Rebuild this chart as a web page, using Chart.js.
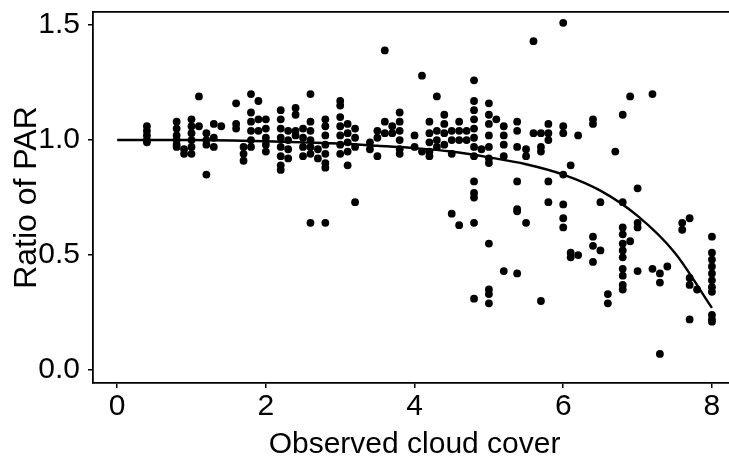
<!DOCTYPE html>
<html>
<head>
<meta charset="utf-8">
<script src="https://cdn.jsdelivr.net/npm/chart.js@4.4.1/dist/chart.umd.min.js"></script>
<style>
  html, body { margin: 0; padding: 0; background: #fff; overflow: hidden; width: 729px; height: 460px; }
  #c { display: block; }
</style>
</head>
<body>
<canvas id="c" width="740" height="460"></canvas>
<script>
// Observed cloud cover levels (x) and PAR ratio observations at each level (y)
const cloudCoverLevels = [0.4, 0.8, 0.9, 1.0, 1.1, 1.2, 1.3, 1.4, 1.6, 1.7, 1.8, 1.9, 2.0, 2.2, 2.3, 2.4, 2.5, 2.6, 2.7, 2.8,
  3.0, 3.1, 3.2, 3.4, 3.5, 3.6, 3.7, 3.8, 4.0, 4.1, 4.2, 4.3, 4.4, 4.5, 4.6, 4.7, 4.8, 4.9, 5.0, 5.1,
  5.2, 5.38, 5.5, 5.6, 5.7, 5.8, 6.0, 6.1, 6.2, 6.4, 6.5, 6.6, 6.7, 6.8, 6.9, 7.0, 7.2, 7.3, 7.4, 7.6,
  7.7, 7.8, 8.0];
const parRatioByLevel = [
  [1.06, 1.04, 1.02, 1.00, 0.99],
  [1.08, 1.05, 1.02, 1.00, 0.98, 0.97],
  [0.96, 0.94],
  [1.09, 1.06, 1.03, 1.00, 0.97, 0.94],
  [1.19, 1.06],
  [1.03, 1.00, 0.98, 0.85],
  [1.07, 1.01, 0.97],
  [1.06],
  [1.16, 1.07, 1.05],
  [0.97, 0.94, 0.91],
  [1.20, 1.12, 1.08, 1.04, 1.00, 0.97],
  [1.17, 1.09, 1.04],
  [1.09, 1.05, 1.01, 0.98, 0.95],
  [1.13, 1.09, 1.05, 1.01, 0.97, 0.93, 0.89, 0.87],
  [1.04, 1.00, 0.96, 0.92],
  [1.14, 1.11, 1.04, 1.02],
  [1.05, 1.01, 0.97, 0.93],
  [1.20, 1.08, 1.04, 1.00, 0.97, 0.94, 0.64],
  [0.96, 0.92],
  [1.09, 1.06, 1.02, 0.98, 0.94, 0.90, 0.88, 0.64],
  [1.17, 1.15, 1.10, 1.06, 1.02, 0.98, 0.94],
  [1.07, 1.03, 0.99, 0.95, 0.89],
  [1.05, 1.01, 0.97, 0.73],
  [0.99, 0.96],
  [1.04, 1.01, 0.93],
  [1.39, 1.08, 1.03],
  [1.06, 1.03],
  [1.12, 1.08, 1.04, 1.00, 0.96, 0.94],
  [1.02, 0.97],
  [1.28, 0.95],
  [1.08, 1.03, 0.99, 0.95, 0.93],
  [1.19, 1.04, 1.00, 0.97],
  [1.11, 1.07, 1.03, 0.98],
  [1.04, 1.00, 0.94, 0.68],
  [1.08, 1.04, 1.00, 0.63],
  [1.04, 1.00],
  [1.26, 1.17, 1.13, 1.09, 1.05, 1.01, 0.97, 0.93, 0.82, 0.77, 0.75, 0.64, 0.31],
  [0.96],
  [1.16, 1.11, 1.07, 1.02, 0.97, 0.92, 0.90, 0.55, 0.35, 0.33, 0.29],
  [1.09],
  [1.06, 1.02, 0.98, 0.93, 0.43],
  [1.08, 1.04, 0.97, 0.82, 0.70, 0.69, 0.42],
  [0.96, 0.93, 0.64],
  [1.43, 1.03],
  [1.03, 0.97, 0.95, 0.30],
  [1.07, 1.03, 1.00, 0.82, 0.73],
  [1.51, 1.06, 1.03, 0.85, 0.72, 0.66, 0.62],
  [0.89, 0.51, 0.49],
  [1.02, 0.50],
  [1.09, 1.07, 0.58, 0.54, 0.47],
  [0.73, 0.52],
  [0.33, 0.29],
  [0.95],
  [1.11, 0.73, 0.62, 0.59, 0.55, 0.52, 0.49, 0.44, 0.41, 0.37, 0.35],
  [1.19, 0.56],
  [0.79, 0.64, 0.62, 0.43],
  [1.20, 0.44],
  [0.42, 0.38, 0.07],
  [0.45],
  [0.64, 0.61],
  [0.66, 0.40, 0.37, 0.22],
  [0.35],
  [0.58, 0.51, 0.48, 0.45, 0.42, 0.39, 0.36, 0.34, 0.24, 0.22, 0.21]
];
// Fitted curve
const fitCloudCover = [0, 1, 2, 2.5, 3, 3.5, 4, 4.5, 5, 5.5, 6, 6.5, 7, 7.5, 8];
const fitParRatio   = [1.0, 1.0, 0.995, 0.99, 0.985, 0.975, 0.965, 0.95, 0.925, 0.895, 0.85, 0.78, 0.67, 0.51, 0.27];
// Axis ticks and titles
const xTickValues = [0, 2, 4, 6, 8];
const yTickValues = [0.0, 0.5, 1.0, 1.5];
const xTitle = 'Observed cloud cover';
const yTitle = 'Ratio of PAR';

const scatterData = [];
cloudCoverLevels.forEach((x, i) => parRatioByLevel[i].forEach(y => scatterData.push({x, y})));
const fitData = fitCloudCover.map((x, i) => ({x, y: fitParRatio[i]}));

const FONT = "'Liberation Sans', Arial, sans-serif";
const X_MIN = -0.325, X_MAX = 8.325, Y_MIN = -0.0566, Y_MAX = 1.557;

function noPad(s) { s.paddingTop = 0; s.paddingBottom = 0; s.paddingLeft = 0; s.paddingRight = 0; }

new Chart(document.getElementById('c'), {
  type: 'scatter',
  data: {
    datasets: [
      {
        type: 'line',
        data: fitData,
        borderColor: '#000',
        borderWidth: 2.4,
        pointRadius: 0,
        fill: false,
        cubicInterpolationMode: 'monotone',
        order: 0
      },
      {
        data: scatterData,
        backgroundColor: '#000',
        borderColor: '#000',
        borderWidth: 0,
        pointRadius: 3.9,
        pointHoverRadius: 3.9,
        order: 1
      }
    ]
  },
  options: {
    responsive: false,
    animation: false,
    devicePixelRatio: 1,
    layout: { padding: 0 },
    plugins: { legend: { display: false }, tooltip: { enabled: false } },
    scales: {
      x: {
        type: 'linear', position: 'bottom', min: X_MIN, max: X_MAX,
        afterBuildTicks: s => { s.ticks = xTickValues.map(v => ({value: v})); },
        afterFit: s => { s.height = 77; noPad(s); },
        border: { display: true, color: '#000', width: 1.8 },
        grid: { display: true, drawOnChartArea: false, drawTicks: true, tickLength: 5, color: '#000', lineWidth: 1.5 },
        ticks: { color: '#000', padding: 1, font: { family: FONT, size: 30 }, maxRotation: 0,
                 callback: v => String(v) },
        title: { display: true, text: xTitle, color: '#000', font: { family: FONT, size: 30, lineHeight: 1 },
                 padding: { top: 0, bottom: 0 } }
      },
      x2: {
        type: 'linear', position: 'top', min: X_MIN, max: X_MAX,
        afterFit: s => { s.height = 12; noPad(s); },
        border: { display: true, color: '#000', width: 1.8 },
        grid: { display: false },
        ticks: { display: false }
      },
      y: {
        type: 'linear', position: 'left', min: Y_MIN, max: Y_MAX,
        afterBuildTicks: s => { s.ticks = yTickValues.map(v => ({value: v})); },
        afterFit: s => { s.width = 93; noPad(s); },
        border: { display: true, color: '#000', width: 1.8 },
        grid: { display: true, drawOnChartArea: false, drawTicks: true, tickLength: 5, color: '#000', lineWidth: 1.5 },
        ticks: { color: '#000', padding: 8, font: { family: FONT, size: 30 },
                 callback: v => Number(v).toFixed(1) },
        title: { display: true, text: yTitle, color: '#000', font: { family: FONT, size: 32, lineHeight: 1 },
                 padding: { top: 11, bottom: 0 } }
      }
    }
  }
});
</script>
</body>
</html>
